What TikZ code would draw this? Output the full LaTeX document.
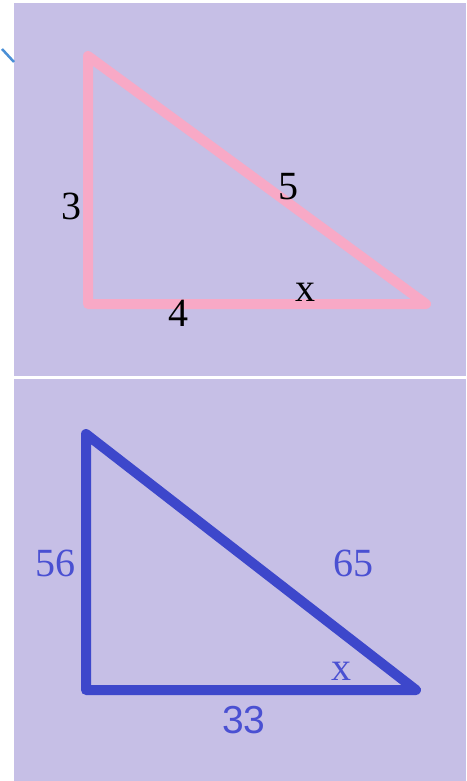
\documentclass[tikz,border=0pt]{standalone}
\usepackage{fontspec}
\setmainfont{Liberation Serif}
\newfontfamily\lsans{Liberation Sans}
\definecolor{lav}{HTML}{C6BFE6}
\definecolor{pinkline}{HTML}{F8A9C6}
\definecolor{blueline}{HTML}{3D47CB}
\definecolor{bluetext}{HTML}{4A50D2}
\definecolor{tinyline}{HTML}{4A8FD6}
\begin{document}
\begin{tikzpicture}[x=1pt,y=-1pt,
  panel/.style={fill=lav,draw=none},
  tri/.style={line width=10pt,line join=round,line cap=round},
  lbl/.style={inner sep=0pt,font=\fontsize{40}{48}\selectfont},
  blbl/.style={lbl,text=bluetext}]
\useasboundingbox[fill=white] (0,0) rectangle (466,781);
\fill[panel] (14,3) rectangle (466,376);
\fill[panel] (14,379) rectangle (466,781);
\coordinate (t0) at (2,49);
\coordinate (t1) at (14,62);
\draw[tinyline,line width=2.5pt] (t0) -- (t1);
% top triangle
\coordinate (A) at (88,56);
\coordinate (B) at (88,304);
\coordinate (C) at (426,304);
\draw[tri,pinkline] (A) -- (B) -- (C) -- cycle;
\node[lbl] (l3) at (71,206) {3};
\node[lbl] (l5) at (288,187) {5};
\node[lbl] (lx) at (305,292) {x};
\node[lbl] (l4) at (178,313) {4};
% bottom triangle
\coordinate (D) at (86,434);
\coordinate (E) at (86,690);
\coordinate (F) at (416,690);
\draw[tri,blueline] (D) -- (E) -- (F) -- cycle;
\node[blbl] (l56) at (55,563) {56};
\node[blbl] (l65) at (353,563) {65};
\node[blbl] (lbx) at (341,671) {x};
\node[blbl,font=\lsans\fontsize{39}{46}\selectfont] (l33) at (244,720) {33};
\end{tikzpicture}
\end{document}
